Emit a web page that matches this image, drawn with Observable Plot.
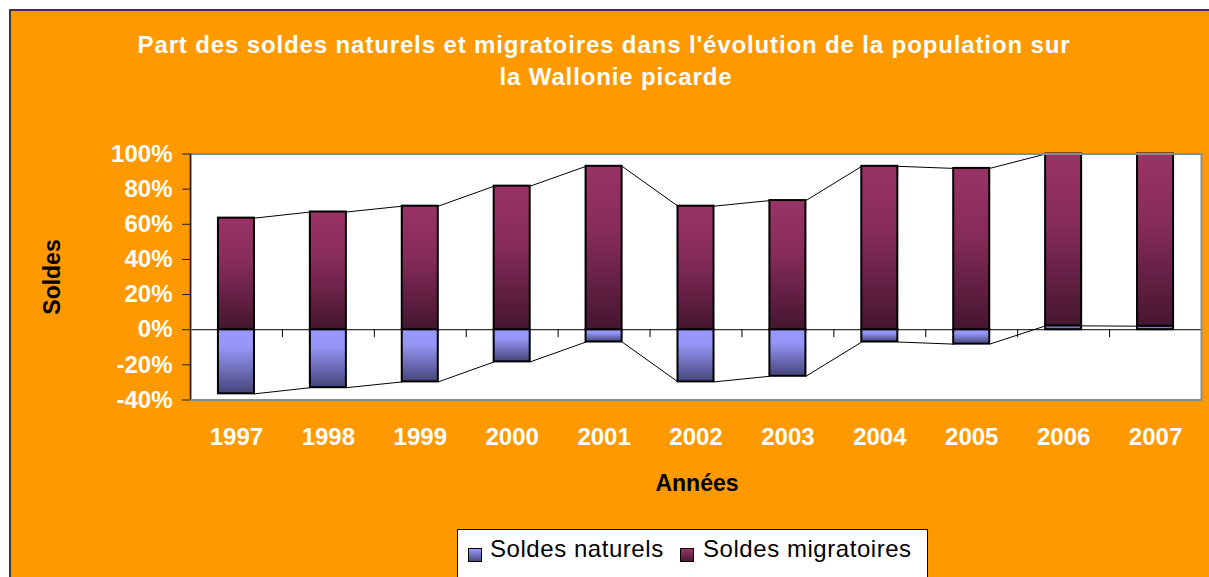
<!DOCTYPE html>
<html>
<head>
<meta charset="utf-8">
<script src="https://cdn.jsdelivr.net/npm/d3@7"></script>
<script src="https://cdn.jsdelivr.net/npm/@observablehq/plot@0.6"></script>
<style>
  html, body { margin: 0; padding: 0; background: #ffffff; width: 1209px; height: 577px; overflow: hidden; }
  body { position: relative; font-family: "Liberation Sans", Arial, sans-serif; }
  #bg { position: absolute; left: 9px; top: 9px; width: 1210px; height: 580px; background: #FF9900;
        border-top: 2px solid #3a3a3a; border-left: 2px solid #3a3a3a; }
  .title { position: absolute; color: #ffffff; font-weight: bold; font-size: 24px; letter-spacing: 0.87px;
           white-space: nowrap; transform: translateX(-50%); }
  #chart { position: absolute; left: 0; top: 0; }
  #chart svg { background: transparent; overflow: visible; }
  g[aria-label="y-axis tick label"], g[aria-label="x-axis tick label"] { fill: #ffffff; font-weight: bold; }
  g[aria-label="y-axis tick"] { stroke: #222; }
  .axlabel { position: absolute; color: #000; font-weight: bold; font-size: 23px; white-space: nowrap; }
  #legend { position: absolute; left: 457px; top: 529px; width: 471px; height: 60px; background: #fff;
            border: 1px solid #000; box-sizing: border-box; }
  .sw { position: absolute; width: 14px; height: 14px; border: 1px solid #000; box-sizing: border-box; top: 18px; }
  .lt { position: absolute; top: 5px; font-size: 24px; letter-spacing: 0.55px; color: #000; white-space: nowrap; }
</style>
</head>
<body>
<div id="bg"></div>
<div class="title" style="left:604px; top:31px;">Part des soldes naturels et migratoires dans l'évolution de la population sur</div>
<div class="title" style="left:616px; top:63px;">la Wallonie picarde</div>
<div id="chart"></div>
<div class="axlabel" style="left:697px; top:470px; transform:translateX(-50%);">Années</div>
<div class="axlabel" style="left:52px; top:277px; transform:translate(-50%,-50%) rotate(-90deg);">Soldes</div>
<div id="legend">
  <div class="sw" style="left:10px; background:linear-gradient(#9999ff,#4a4a80);"></div>
  <div class="lt" style="left:32px;">Soldes naturels</div>
  <div class="sw" style="left:222px; background:linear-gradient(#993366,#4a1a33);"></div>
  <div class="lt" style="left:245px;">Soldes migratoires</div>
</div>
<script>
const years = [1997, 1998, 1999, 2000, 2001, 2002, 2003, 2004, 2005, 2006, 2007];
const naturels = [-36.5, -33, -29.7, -18.3, -7, -29.7, -26.5, -7, -8.2, 2.2, 2];
const migratoires = [63.5, 67, 70.3, 81.7, 93, 70.3, 73.5, 93, 91.8, 97.8, 98];
const yTicks = [-40, -20, 0, 20, 40, 60, 80, 100];

const half = 0.196; // half bar width in category units
const rows = years.map((y, i) => ({
  year: y,
  nat: naturels[i],
  mig: migratoires[i],
  migBase: Math.max(naturels[i], 0),
  migTop: Math.max(naturels[i], 0) + migratoires[i]
}));
const pairs = d3.pairs(rows);
const bounds = [years[0] - 0.5, ...years.map(y => y + 0.5)];

const plot = Plot.plot({
  width: 1209,
  height: 577,
  marginTop: 153.5,
  marginBottom: 177.5,
  marginLeft: 190,
  marginRight: 8,
  style: { background: "transparent", fontFamily: "'Liberation Sans', Arial, sans-serif" },
  x: { domain: [years[0] - 0.5, years[years.length - 1] + 0.5], axis: null },
  y: { domain: [-40, 100], axis: null },
  marks: [
    Plot.frame({ fill: "white", stroke: null }),
    Plot.ruleY([0], { stroke: "#000", strokeWidth: 1 }),
    Plot.ruleX(bounds, { y1: 0, y2: -4.5, stroke: "#000", strokeWidth: 1 }),
    Plot.link(pairs, {
      x1: d => d[0].year + half, y1: d => d[0].nat,
      x2: d => d[1].year - half, y2: d => d[1].nat,
      stroke: "#000", strokeWidth: 1
    }),
    Plot.link(pairs, {
      x1: d => d[0].year + half, y1: d => d[0].migTop,
      x2: d => d[1].year - half, y2: d => d[1].migTop,
      stroke: "#000", strokeWidth: 1
    }),
    Plot.rect(rows, {
      x1: d => d.year - half, x2: d => d.year + half,
      y1: 0, y2: "nat",
      fill: "url(#gNat)", stroke: "#000", strokeWidth: 2
    }),
    Plot.rect(rows, {
      x1: d => d.year - half, x2: d => d.year + half,
      y1: "migBase", y2: "migTop",
      fill: "url(#gMig)", stroke: "#000", strokeWidth: 2
    }),
    Plot.frame({ stroke: "#8c8c8c", strokeWidth: 2 }),
    Plot.ruleX([years[0] - 0.5], { stroke: "#222", strokeWidth: 1.5 }),
    Plot.axisY({
      ticks: yTicks, tickFormat: d => d + "%", tickSize: 8, tickPadding: 10,
      fontSize: 24, anchor: "left"
    }),
    Plot.axisX({
      ticks: years, tickFormat: d => String(d), tickSize: 0, tickPadding: 28,
      fontSize: 24, anchor: "bottom"
    })
  ]
});

const defs = d3.select(plot).insert("defs", ":first-child");
const gm = defs.append("linearGradient").attr("id", "gMig").attr("x1", 0).attr("y1", 0).attr("x2", 0).attr("y2", 1);
gm.append("stop").attr("offset", "0%").attr("stop-color", "#993366");
gm.append("stop").attr("offset", "40%").attr("stop-color", "#872c5a");
gm.append("stop").attr("offset", "100%").attr("stop-color", "#451530");
const gn = defs.append("linearGradient").attr("id", "gNat").attr("x1", 0).attr("y1", 0).attr("x2", 0).attr("y2", 1);
gn.append("stop").attr("offset", "0%").attr("stop-color", "#9999ff");
gn.append("stop").attr("offset", "30%").attr("stop-color", "#9595f5");
gn.append("stop").attr("offset", "100%").attr("stop-color", "#45457a");

document.getElementById("chart").appendChild(plot);
</script>
</body>
</html>
